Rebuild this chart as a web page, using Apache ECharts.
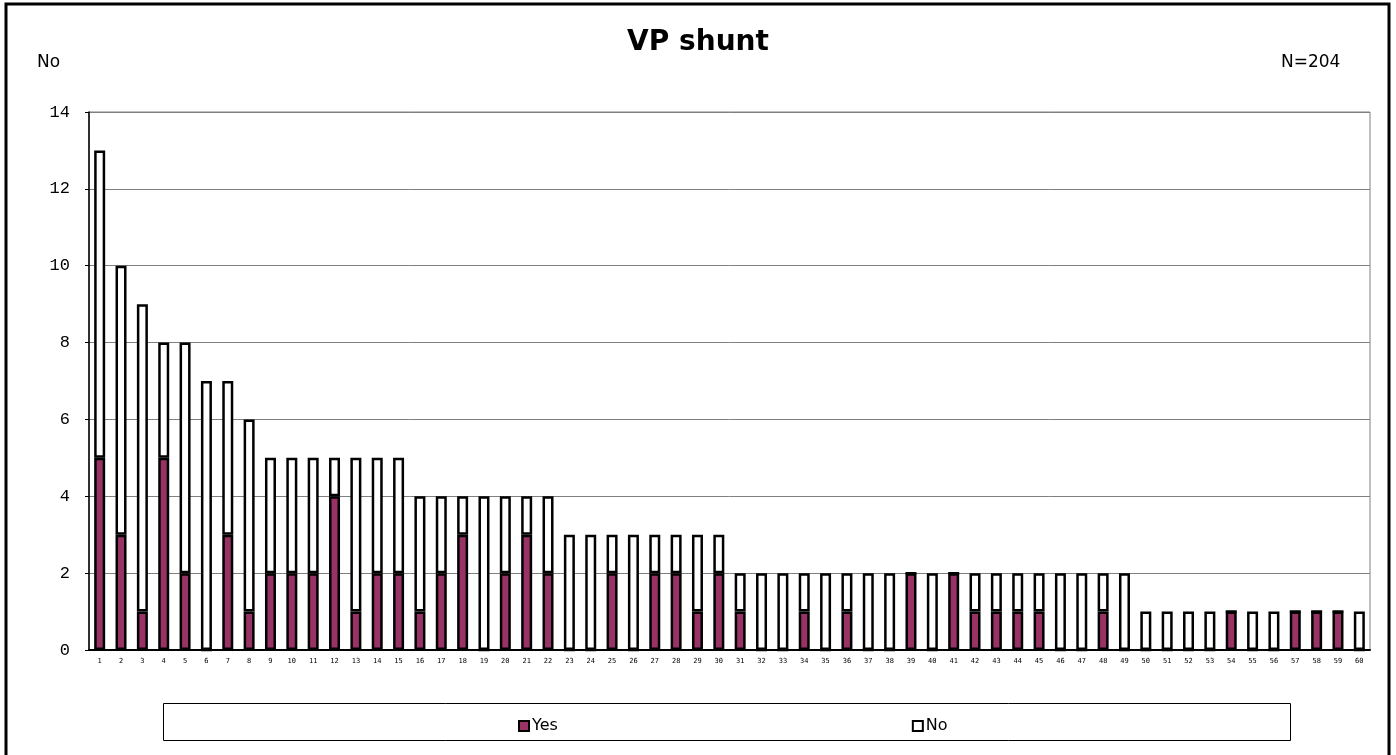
<!DOCTYPE html>
<html>
<head>
    <meta charset="UTF-8" />
    <title>VP shunt</title>
    <style>
        html, body { margin: 0; padding: 0; background: #fff; }
        #chart { width: 1396px; height: 755px; }
    </style>
</head>
<body>
    <div id="chart"></div>
    <script src="https://cdn.jsdelivr.net/npm/echarts@6/dist/echarts.min.js"></script>
    <script type="text/javascript">
        // categories 1..60
        var categories = ['1','2','3','4','5','6','7','8','9','10','11','12','13','14','15','16','17','18','19','20',
            '21','22','23','24','25','26','27','28','29','30','31','32','33','34','35','36','37','38','39','40',
            '41','42','43','44','45','46','47','48','49','50','51','52','53','54','55','56','57','58','59','60'];
        var yesValues = [5,3,1,5,2,0,3,1,2,2, 2,4,1,2,2,1,2,3,0,2,
            3,2,0,0,2,0,2,2,1,2, 1,0,0,1,0,1,0,0,2,0,
            2,1,1,1,1,0,0,1,0,0, 0,0,0,1,0,0,1,1,1,0];
        var noValues = [8,7,8,3,6,7,4,5,3,3, 3,1,4,3,3,3,2,1,4,2,
            1,2,3,3,1,3,1,1,2,1, 1,2,2,1,2,1,2,2,0,2,
            0,1,1,1,1,2,2,1,2,1, 1,1,1,0,1,1,0,0,0,1];
        var yTicks = [0, 2, 4, 6, 8, 10, 12, 14];

        var chart = echarts.init(document.getElementById('chart'));
        var option = {
            animation: false,
            backgroundColor: '#fff',
            title: {
                text: 'VP shunt',
                left: 'center',
                top: 24,
                textStyle: { fontFamily: 'DejaVu Sans', fontWeight: 'bold', fontSize: 28, color: '#000' }
            },
            legend: {
                data: ['Yes', 'No'],
                left: 513,
                top: 713,
                itemWidth: 10,
                itemHeight: 10,
                itemGap: 354,
                icon: 'rect',
                textStyle: { fontFamily: 'DejaVu Sans', fontSize: 16, color: '#000', padding: [0, 0, 0, -2] }
            },
            grid: {
                left: 89, right: 26, top: 112, bottom: 105,
                show: true, borderColor: '#808080', borderWidth: 1
            },
            xAxis: {
                type: 'category',
                data: categories,
                axisLine: { lineStyle: { color: '#000', width: 2 } },
                axisTick: { inside: true, length: 3, lineStyle: { color: '#000' } },
                axisLabel: { interval: 0, fontFamily: 'DejaVu Sans Mono', fontSize: 7, color: '#000', margin: 8 }
            },
            yAxis: {
                type: 'value',
                min: yTicks[0],
                max: yTicks[yTicks.length - 1],
                interval: 2,
                axisLine: { show: true, lineStyle: { color: '#000', width: 1.5 } },
                axisTick: { show: true, length: 4, lineStyle: { color: '#000' } },
                axisLabel: { fontFamily: 'Liberation Mono', fontSize: 17, color: '#000', margin: 19 },
                splitLine: { lineStyle: { color: '#808080', width: 1 } }
            },
            series: [
                {
                    name: 'Yes',
                    type: 'bar',
                    stack: 'total',
                    data: yesValues,
                    barWidth: 11,
                    itemStyle: { color: '#993366', borderColor: '#000', borderWidth: 2.5 }
                },
                {
                    name: 'No',
                    type: 'bar',
                    stack: 'total',
                    data: noValues,
                    barWidth: 11,
                    itemStyle: { color: '#fff', borderColor: '#000', borderWidth: 2.5 }
                }
            ],
            graphic: [
                {
                    type: 'rect',
                    shape: { x: 6, y: 4, width: 1383, height: 760 },
                    style: { fill: 'none', stroke: '#000', lineWidth: 3 },
                    silent: true
                },
                {
                    type: 'rect',
                    shape: { x: 163.5, y: 703.5, width: 1127, height: 37 },
                    style: { fill: 'none', stroke: '#000', lineWidth: 1 },
                    z: -1,
                    silent: true
                },
                {
                    type: 'text',
                    left: 37, top: 54,
                    style: { text: 'No', fontFamily: 'DejaVu Sans', fontSize: 17, fill: '#000' }
                },
                {
                    type: 'text',
                    left: 1281, top: 54,
                    style: { text: 'N=204', fontFamily: 'DejaVu Sans', fontSize: 17, fill: '#000' }
                }
            ]
        };
        chart.setOption(option);
    </script>
</body>
</html>
